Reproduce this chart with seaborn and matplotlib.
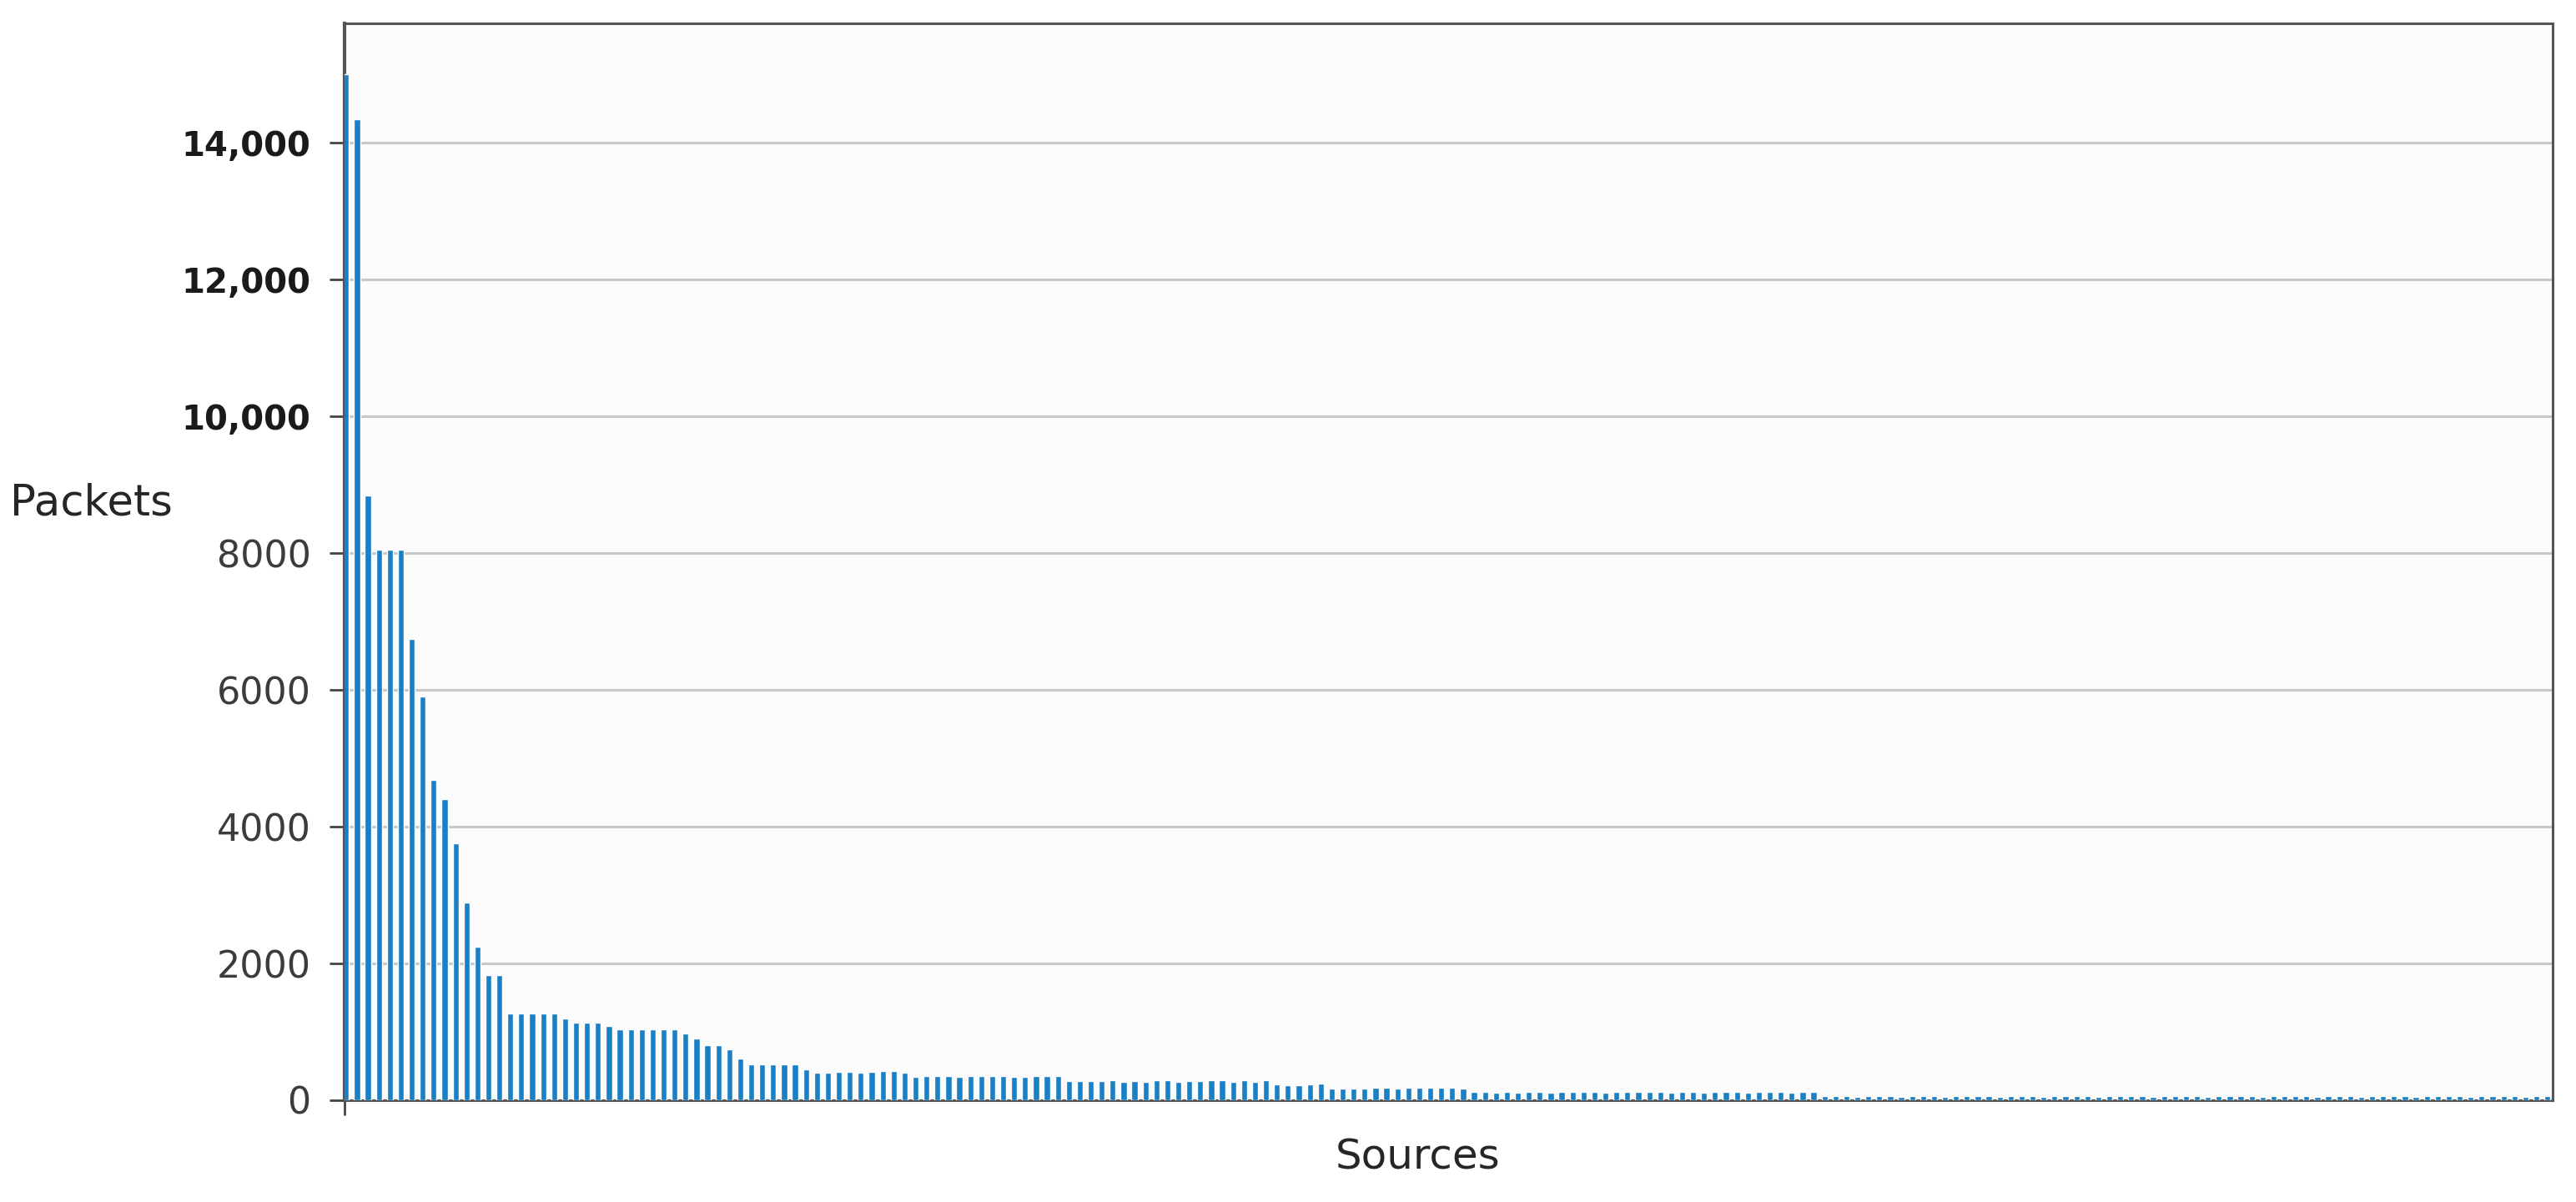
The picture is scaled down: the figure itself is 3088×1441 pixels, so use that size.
import matplotlib
matplotlib.use("Agg")
import matplotlib.pyplot as plt
import seaborn as sns
import pandas as pd

# Paquetes por fuente (orden descendente)
head_values = [15000, 14350, 8840, 8050, 8050, 8050, 6750, 5900, 4680, 4400,
               3760, 2890, 2250, 1830, 1830]
mid_values = [1270, 1270, 1270, 1270, 1270, 1200, 1140, 1140, 1140, 1080,
              1040, 1040, 1040, 1040, 1040, 1040, 975, 900, 800, 800,
              740, 615, 520, 520, 520, 520, 520, 455, 400, 400,
              415, 415, 400, 415, 425, 425, 400, 345, 355, 355,
              355, 345, 355, 355, 355, 355, 345, 345, 355, 355,
              355, 280, 280, 285, 280, 293, 272, 280, 272, 293,
              293, 265, 280, 280, 293, 293, 272, 293, 272, 293,
              232, 224, 224, 232, 240, 165, 165, 165, 171]
low_values = [180, 185, 171, 180, 185, 180, 180, 185, 175,
              118, 118, 115, 118, 110, 118, 118, 110, 118, 118,
              118, 118, 110, 118, 118, 118, 118, 118, 115, 118,
              118, 110, 118, 118, 118, 115, 118, 118, 118, 110,
              118, 118]
tail_values = [57, 60, 57, 52, 60, 60, 57, 52, 60, 57,
               60, 52, 57, 60, 60, 57, 52, 57, 60, 60,
               52, 57, 60, 60, 57, 52, 57, 60, 60, 57,
               52, 57, 60, 60, 57, 52, 57, 60, 57, 60,
               52, 57, 60, 60, 57, 52, 57, 60, 57, 52,
               57, 60, 60, 57, 52, 57, 60, 60, 57, 52,
               57, 60, 60, 57, 52, 57, 57]

packets = head_values + mid_values + low_values + tail_values
df = pd.DataFrame({"source": range(len(packets)), "packets": packets})

ytick_values = [0, 2000, 4000, 6000, 8000, 10000, 12000, 14000]
ytick_labels = ["0", "2000", "4000", "6000", "8000", "10,000", "12,000", "14,000"]

sns.set_style("white")
plt.rcParams["font.family"] = ["DejaVu Sans"]

fig, ax = plt.subplots(figsize=(30.88, 14.41), dpi=100)
fig.subplots_adjust(left=0.1337, right=0.991, top=0.9806, bottom=0.0847)
ax.set_facecolor("#fcfcfc")

sns.barplot(data=df, x="source", y="packets", color="#1a7fc4", saturation=1,
            width=0.55, errorbar=None, ax=ax, zorder=3)

ax.set_xlim(-0.15, len(packets) - 0.5)
ax.set_ylim(0, 15750)
ax.set_yticks(ytick_values)
ax.set_yticklabels(ytick_labels)
ax.set_xticks([-0.15])
ax.set_xticklabels([""])

ax.yaxis.grid(True, color="#c8c8c8", linewidth=2.2)
ax.set_axisbelow(True)
ax.tick_params(axis="both", left=True, bottom=True, length=13, width=2,
               color="#444444", pad=16)
for lbl in ax.get_yticklabels():
    if "," in lbl.get_text():
        lbl.set_fontweight("bold")
        lbl.set_fontsize(29)
        lbl.set_color("#1a1a1a")
    else:
        lbl.set_fontsize(32)
        lbl.set_color("#3c3c3c")

for side, spine in ax.spines.items():
    spine.set_color("#555555")
    spine.set_linewidth(2.2)
ax.spines["left"].set_linewidth(3)

ax.set_ylabel("Packets", rotation=0, fontsize=37, ha="center", va="center")
ax.yaxis.set_label_coords(-0.1145, 0.554)
ax.set_xlabel("Sources", fontsize=36, va="center")
ax.xaxis.set_label_coords(0.486, -0.0534)

plt.savefig("out.png", dpi=100)
